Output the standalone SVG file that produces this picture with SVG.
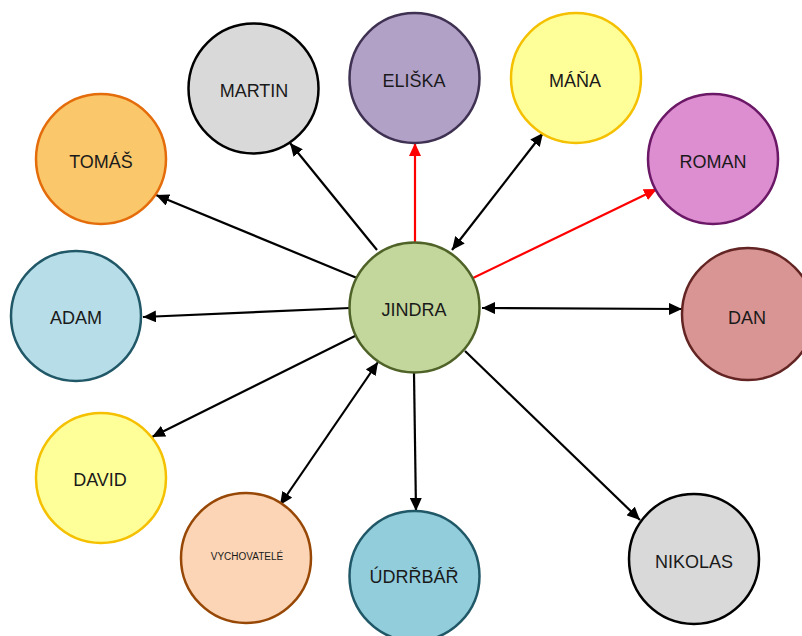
<svg xmlns="http://www.w3.org/2000/svg" width="802" height="636" viewBox="0 0 802 636">
<defs>
<style>
.n{stroke-width:2.5}
.t{font-family:"Liberation Sans",Arial,sans-serif;font-size:18px;fill:#1a1a1a;text-anchor:middle;dominant-baseline:central}
.c{fill:none;stroke:#000;stroke-width:2.2}
.r{fill:none;stroke:#ff0000;stroke-width:2.2}
</style>
<marker id="ab" markerUnits="userSpaceOnUse" markerWidth="14" markerHeight="12" viewBox="0 0 14 12" refX="13" refY="6" orient="auto-start-reverse"><path d="M0,0 L13,6 L0,12 Z" fill="#000"/></marker>
<marker id="ar" markerUnits="userSpaceOnUse" markerWidth="14" markerHeight="12" viewBox="0 0 14 12" refX="13" refY="6" orient="auto-start-reverse"><path d="M0,0 L13,6 L0,12 Z" fill="#ff0000"/></marker>
</defs>
<rect width="802" height="636" fill="#fff"/>
<g id="connectors">
<line class="c" x1="377" y1="250" x2="290" y2="143" marker-end="url(#ab)"/>
<line class="r" x1="415" y1="242" x2="415" y2="143" marker-end="url(#ar)"/>
<line class="c" x1="452" y1="250" x2="543" y2="133" marker-start="url(#ab)" marker-end="url(#ab)"/>
<line class="r" x1="473" y1="278" x2="657" y2="189" marker-end="url(#ar)"/>
<line class="c" x1="482" y1="308" x2="682" y2="309" marker-start="url(#ab)" marker-end="url(#ab)"/>
<line class="c" x1="465" y1="351" x2="640" y2="520" marker-end="url(#ab)"/>
<line class="c" x1="414" y1="373" x2="416" y2="511" marker-end="url(#ab)"/>
<line class="c" x1="280" y1="505" x2="378" y2="362" marker-start="url(#ab)" marker-end="url(#ab)"/>
<line class="c" x1="357" y1="335" x2="152" y2="437" marker-end="url(#ab)"/>
<line class="c" x1="350" y1="308" x2="143" y2="317" marker-end="url(#ab)"/>
<line class="c" x1="357" y1="278" x2="156" y2="195" marker-end="url(#ab)"/>
</g>
<g id="jindra"><circle class="n" cx="414.5" cy="307.5" r="65" fill="#c3d69b" stroke="#4f6228"/><text class="t" x="414" y="310">JINDRA</text></g>
<g id="martin"><circle class="n" cx="253.5" cy="88.5" r="65" fill="#d9d9d9" stroke="#000"/><text class="t" x="254" y="91">MARTIN</text></g>
<g id="eliska"><circle class="n" cx="414.5" cy="78" r="65" fill="#b2a1c7" stroke="#3f3151"/><text class="t" x="414" y="81">ELIŠKA</text></g>
<g id="mana"><circle class="n" cx="576" cy="78" r="65" fill="#ffff99" stroke="#f5c000"/><text class="t" x="575" y="81">MÁŇA</text></g>
<g id="roman"><circle class="n" cx="713" cy="159" r="65" fill="#dd8ed0" stroke="#6b1866"/><text class="t" x="713" y="162">ROMAN</text></g>
<g id="tomas"><circle class="n" cx="101" cy="159" r="65" fill="#fac86a" stroke="#e46c0a"/><text class="t" x="101" y="162">TOMÁŠ</text></g>
<g id="adam"><circle class="n" cx="76" cy="316" r="65" fill="#b7dde8" stroke="#215868"/><text class="t" x="76" y="318">ADAM</text></g>
<g id="dan"><circle class="n" cx="748" cy="314" r="66" fill="#d99594" stroke="#632523"/><text class="t" x="747" y="318">DAN</text></g>
<g id="david"><circle class="n" cx="101" cy="478" r="65" fill="#ffff99" stroke="#f5c000"/><text class="t" x="100" y="480">DAVID</text></g>
<g id="vychovatele"><circle class="n" cx="246" cy="558" r="65" fill="#fbd5b5" stroke="#984806"/><text class="t" x="247" y="556" style="font-size:10px">VYCHOVATELÉ</text></g>
<g id="udrzbar"><circle class="n" cx="414.5" cy="576" r="65" fill="#92cddc" stroke="#215868"/><text class="t" x="414" y="577">ÚDRŘBÁŘ</text></g>
<g id="nikolas"><circle class="n" cx="694" cy="559" r="65" fill="#d9d9d9" stroke="#000"/><text class="t" x="694" y="562">NIKOLAS</text></g>
</svg>
